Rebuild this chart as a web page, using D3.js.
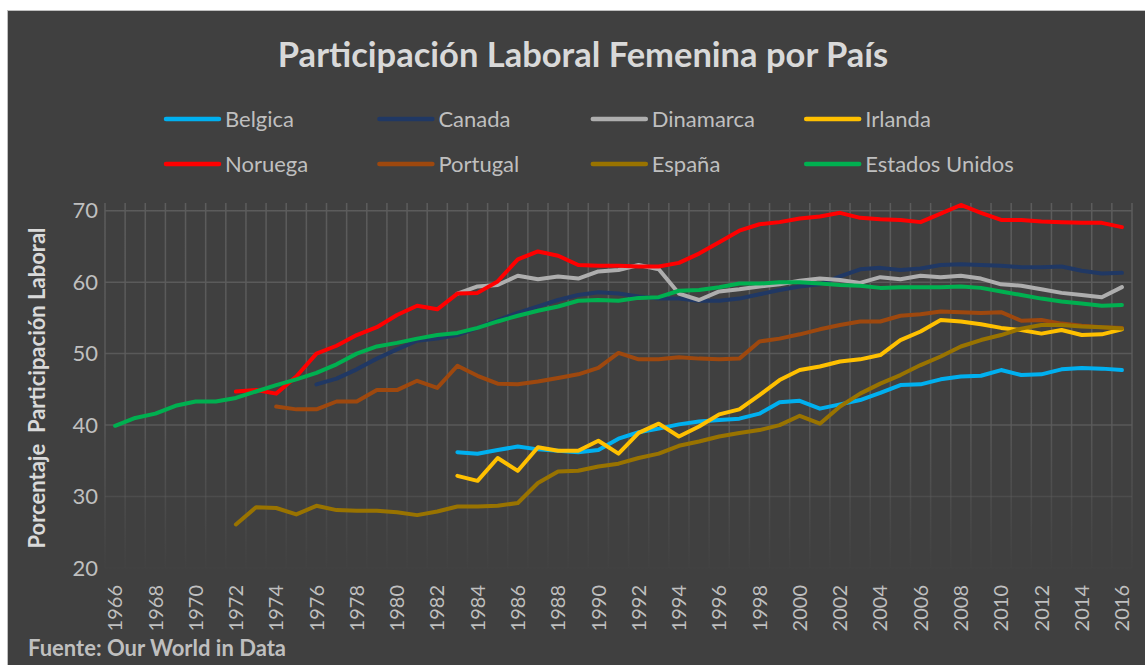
<!DOCTYPE html>
<html lang="es">
<head>
	<meta charset="utf-8"/>
	<title>Participación Laboral Femenina por País</title>
	<script src="https://d3js.org/d3.v7.min.js" charset="utf-8"></script>
	<style>
		body { margin: 0; background: #fff; }
		text { font-family: Lato, "Open Sans", sans-serif; }
		.tick-label { fill: #bfbfbf; }
	</style>
</head>
<body>
<div id="chart"></div>

<script>
	// DATA (porcentaje de participación laboral femenina)
	var years = d3.range(1966, 2017);
	var yTicks = [20, 30, 40, 50, 60, 70];

	var belgica = [36.2, 36.0, 36.5, 37.0, 36.6, 36.4, 36.2, 36.5, 38.1, 39.0, 39.5, 40.1, 40.5, 40.7, 40.9, 41.6, 43.2,
		43.4, 42.3, 42.9, 43.5, 44.5, 45.6, 45.7, 46.4, 46.8, 46.9, 47.7, 47.0, 47.1, 47.8, 48.0, 47.9, 47.7];
	var canada = [45.7, 46.5, 47.8, 49.3, 50.6, 51.8, 52.1, 52.6, 53.6, 54.7, 55.7, 56.6, 57.5, 58.2, 58.6, 58.4, 58.0,
		57.7, 57.7, 57.4, 57.4, 57.7, 58.3, 58.9, 59.4, 59.7, 60.8, 61.8, 62.0, 61.7, 61.9, 62.4, 62.5, 62.4, 62.3, 62.1,
		62.1, 62.2, 61.6, 61.2, 61.3];
	var dinamarca = [58.4, 59.4, 59.6, 60.9, 60.4, 60.8, 60.5, 61.5, 61.7, 62.4, 61.8, 58.4, 57.5, 58.7, 59.0, 59.4, 59.7,
		60.2, 60.5, 60.3, 59.9, 60.7, 60.4, 60.9, 60.7, 60.9, 60.5, 59.7, 59.5, 59.0, 58.5, 58.2, 57.9, 59.3];
	var irlanda = [32.9, 32.2, 35.4, 33.6, 36.9, 36.4, 36.4, 37.8, 36.0, 38.9, 40.2, 38.4, 39.8, 41.5, 42.2, 44.2, 46.3,
		47.7, 48.2, 48.9, 49.2, 49.8, 51.9, 53.1, 54.7, 54.5, 54.1, 53.6, 53.3, 52.8, 53.3, 52.6, 52.7, 53.4];
	var noruega = [44.7, 44.9, 44.4, 46.8, 50.0, 51.1, 52.6, 53.7, 55.4, 56.7, 56.2, 58.4, 58.5, 60.1, 63.2, 64.3, 63.7,
		62.4, 62.3, 62.3, 62.2, 62.2, 62.7, 64.0, 65.6, 67.2, 68.1, 68.4, 68.9, 69.2, 69.7, 69.0, 68.8, 68.7, 68.4, 69.6,
		70.8, 69.7, 68.7, 68.7, 68.5, 68.4, 68.3, 68.3, 67.7];
	var portugal = [42.6, 42.2, 42.2, 43.3, 43.3, 44.9, 44.9, 46.2, 45.2, 48.3, 46.9, 45.8, 45.7, 46.1, 46.6, 47.1, 48.0,
		50.1, 49.2, 49.2, 49.5, 49.3, 49.2, 49.3, 51.7, 52.1, 52.7, 53.4, 54.0, 54.5, 54.5, 55.3, 55.5, 55.9, 55.8, 55.7,
		55.8, 54.6, 54.7, 54.2, 53.9, 53.7, 53.6];
	var espana = [26.1, 28.5, 28.4, 27.5, 28.7, 28.1, 28.0, 28.0, 27.8, 27.4, 27.9, 28.6, 28.6, 28.7, 29.1, 31.9, 33.5,
		33.6, 34.2, 34.6, 35.4, 36.0, 37.1, 37.7, 38.4, 38.9, 39.3, 40.0, 41.3, 40.2, 42.6, 44.4, 45.8, 47.0, 48.4, 49.6,
		51.0, 51.9, 52.6, 53.5, 54.0, 54.0, 53.8, 53.7, 53.5];
	var estadosUnidos = [39.9, 41.0, 41.6, 42.7, 43.3, 43.3, 43.8, 44.7, 45.6, 46.4, 47.3, 48.5, 50.0, 51.0, 51.5, 52.1,
		52.6, 52.9, 53.6, 54.5, 55.3, 56.0, 56.6, 57.4, 57.5, 57.4, 57.8, 57.9, 58.8, 58.9, 59.3, 59.8, 59.8, 60.0, 60.0,
		59.8, 59.6, 59.5, 59.2, 59.3, 59.3, 59.3, 59.4, 59.2, 58.7, 58.2, 57.7, 57.3, 57.0, 56.7, 56.8];

	var series = [
		{name: "Belgica", start: 1983, values: belgica, color: "#00b0f0"},
		{name: "Canada", start: 1976, values: canada, color: "#203864"},
		{name: "Dinamarca", start: 1983, values: dinamarca, color: "#aeaeae"},
		{name: "Irlanda", start: 1983, values: irlanda, color: "#ffc000"},
		{name: "Noruega", start: 1972, values: noruega, color: "#ff0000"},
		{name: "Portugal", start: 1974, values: portugal, color: "#9e480e"},
		{name: "España", start: 1972, values: espana, color: "#997300"},
		{name: "Estados Unidos", start: 1966, values: estadosUnidos, color: "#00b050"}
	];

	var width = 1145,
		height = 665;

	var svg = d3.select("#chart").append("svg")
		.attr("width", width)
		.attr("height", height);

	// gridlines fade out towards the bottom
	var grad = svg.append("defs").append("linearGradient")
		.attr("id", "gridFade")
		.attr("gradientUnits", "userSpaceOnUse")
		.attr("x1", 0).attr("y1", 200)
		.attr("x2", 0).attr("y2", 575);
	grad.append("stop").attr("offset", 0).attr("stop-color", "#5c5c5c").attr("stop-opacity", 1);
	grad.append("stop").attr("offset", 0.6).attr("stop-color", "#5c5c5c").attr("stop-opacity", 0.85);
	grad.append("stop").attr("offset", 1).attr("stop-color", "#5c5c5c").attr("stop-opacity", 0);

	// background panel
	svg.append("rect")
		.attr("x", 7.5)
		.attr("y", 10.5)
		.attr("width", width)
		.attr("height", height)
		.attr("fill", "#404040")
		.attr("stroke", "#bfbfbf");

	var x = d3.scaleBand()
		.domain(years)
		.range([105, 1132]);

	var y = d3.scaleLinear()
		.domain([20, 70])
		.range([568, 210.7]);

	// title
	svg.append("text")
		.attr("x", 583)
		.attr("y", 67)
		.attr("text-anchor", "middle")
		.attr("font-size", 34.5)
		.attr("font-weight", "bold")
		.attr("fill", "#d9d9d9")
		.text("Participación Laboral Femenina por País");

	// legend
	var legend = svg.append("g")
		.selectAll("g")
		.data(series)
		.enter().append("g")
		.attr("transform", function(d, i) {
			return "translate(" + (166 + (i % 4) * 213.4) + "," + (119 + Math.floor(i / 4) * 45) + ")";
		});

	legend.append("line")
		.attr("x1", 0).attr("x2", 53)
		.attr("stroke", function(d) { return d.color; })
		.attr("stroke-width", 4.5)
		.attr("stroke-linecap", "round");

	legend.append("text")
		.attr("x", 59)
		.attr("dy", "0.35em")
		.attr("font-size", 22)
		.attr("fill", "#bfbfbf")
		.text(function(d) { return d.name; });

	// gridlines
	var grid = svg.append("g")
		.attr("stroke", "url(#gridFade)")
		.attr("stroke-width", 1.5);

	grid.selectAll(".h")
		.data(yTicks)
		.enter().append("line")
		.attr("x1", 105).attr("x2", 1132)
		.attr("y1", function(d) { return y(d); })
		.attr("y2", function(d) { return y(d); });

	grid.selectAll(".v")
		.data(years.map(function(d) { return x(d); }).concat([x.range()[1]]))
		.enter().append("line")
		.attr("x1", function(d) { return d; })
		.attr("x2", function(d) { return d; })
		.attr("y1", 203)
		.attr("y2", 568);

	// y axis
	var yAxis = svg.append("g")
		.attr("transform", "translate(98,0)")
		.call(d3.axisLeft(y).tickValues(yTicks).tickSize(0).tickPadding(0));
	yAxis.select(".domain").remove();
	yAxis.selectAll("text")
		.attr("class", "tick-label")
		.attr("font-size", 22)
		.attr("font-family", "Lato, sans-serif");

	svg.append("text")
		.attr("transform", "translate(45,388) rotate(-90)")
		.attr("text-anchor", "middle")
		.attr("font-size", 22)
		.attr("font-weight", "bold")
		.attr("fill", "#d9d9d9")
		.style("white-space", "pre")
		.text("Porcentaje  Participación Laboral");

	// x axis
	var xAxis = svg.append("g")
		.attr("transform", "translate(0,585)")
		.call(d3.axisBottom(x)
			.tickValues(years.filter(function(d) { return d % 2 === 0; }))
			.tickSize(0).tickPadding(0));
	xAxis.select(".domain").remove();
	xAxis.selectAll("text")
		.attr("class", "tick-label")
		.attr("font-size", 20)
		.attr("font-family", "Lato, sans-serif")
		.attr("text-anchor", "end")
		.attr("transform", "rotate(-90)")
		.attr("x", 0)
		.attr("y", 0)
		.attr("dy", "0.36em");

	// lines
	var line = d3.line()
		.x(function(d) { return x(d.year) + x.bandwidth() / 2; })
		.y(function(d) { return y(d.value); });

	svg.append("g")
		.selectAll("path")
		.data(series)
		.enter().append("path")
		.attr("fill", "none")
		.attr("stroke", function(d) { return d.color; })
		.attr("stroke-width", 4)
		.attr("stroke-linejoin", "round")
		.attr("stroke-linecap", "round")
		.attr("d", function(s) {
			return line(s.values.map(function(v, i) { return {year: s.start + i, value: v}; }));
		});

	// source
	svg.append("text")
		.attr("x", 28)
		.attr("y", 656)
		.attr("font-size", 22)
		.attr("font-weight", "bold")
		.attr("fill", "#bfbfbf")
		.text("Fuente: Our World in Data");
</script>
</body>
</html>
